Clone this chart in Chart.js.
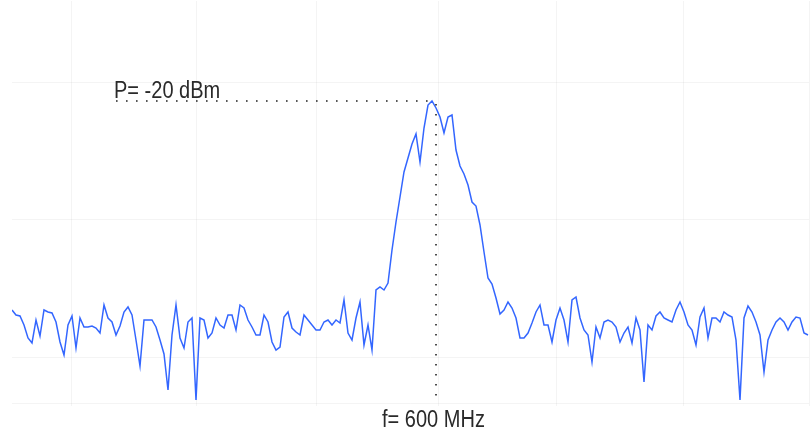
<!DOCTYPE html>
<html><head><meta charset="utf-8">
<script src="https://cdn.jsdelivr.net/npm/chart.js@4.4.1/dist/chart.umd.min.js"></script>
<style>html,body{margin:0;padding:0;background:#fff;overflow:hidden}canvas{display:block}</style>
</head><body>
<canvas id="c" width="810" height="430"></canvas>
<script>
// Frequency axis of the trace (MHz): first sample and spacing
const freqStartMHz = 494;
const freqStepMHz = 1;
const powerDbm = [
 -40.9,-41.4,-41.5,-42.4,-43.7,-44.2,-41.9,-43.5,-40.9,-41.1,
 -41.2,-42.1,-44.1,-45.4,-42.4,-41.5,-44.7,-41.7,-42.6,-42.6,
 -42.5,-42.7,-43.2,-40.4,-41.7,-42.1,-43.4,-42.5,-41.1,-40.6,
 -41.4,-43.9,-46.5,-41.9,-41.9,-41.9,-42.6,-43.9,-45.3,-48.9,
 -43.4,-40.4,-43.7,-44.7,-42.1,-41.7,-49.9,-41.7,-41.9,-43.7,
 -43.2,-41.7,-42.4,-42.7,-41.4,-41.4,-42.9,-40.4,-40.7,-41.9,
 -42.6,-43.4,-43.4,-41.4,-42.1,-44.1,-44.9,-44.6,-41.6,-41.1,
 -42.7,-43.1,-43.4,-41.4,-41.9,-42.4,-42.9,-42.9,-42.1,-41.9,
 -42.4,-41.9,-42.2,-39.9,-43.2,-43.9,-41.7,-40.1,-44.4,-42.4,
 -44.9,-38.9,-38.6,-38.9,-38.2,-34.9,-32.1,-29.6,-27.1,-25.7,
 -24.3,-23.3,-26.1,-22.7,-20.4,-20.0,-20.7,-21.6,-23.2,-21.6,
 -21.4,-24.9,-26.5,-27.3,-28.4,-30.1,-30.5,-32.4,-35.1,-37.7,
 -38.3,-39.7,-41.3,-40.9,-40.1,-40.7,-41.7,-43.7,-43.7,-43.2,
 -42.2,-41.1,-40.4,-42.4,-42.4,-44.1,-41.9,-40.7,-41.9,-44.1,
 -39.9,-39.6,-41.7,-42.9,-43.4,-46.1,-42.6,-43.7,-42.1,-41.9,
 -42.1,-42.6,-44.1,-43.2,-42.6,-44.2,-41.7,-42.9,-48.1,-42.4,
 -42.9,-41.5,-41.1,-41.7,-41.9,-42.1,-40.9,-40.1,-41.1,-42.4,
 -42.9,-44.4,-41.6,-40.7,-43.7,-41.7,-41.7,-42.1,-41.1,-41.4,
 -41.6,-43.9,-49.9,-41.7,-40.5,-41.1,-42.1,-43.4,-47.1,-43.9,
 -42.9,-42.1,-41.7,-42.1,-42.9,-42.1,-41.6,-41.7,-43.2,-43.4
];
// Marker
const markerFreqMHz = 600;
const markerPowerDbm = -20;
const markerLeaderStartMHz = 520;
const markerPowerLabel = 'P= -20 dBm';
const markerFreqLabel = 'f= 600 MHz';
// Faint grid positions
const gridFreqsMHz = [508.75, 540, 570, 600.5, 630, 661.75, 693.25];
const gridLevelsDbm = [-18.1, -31.8, -45.6, -50.2];
const xRangeMHz = [494, 693.25];
const yRangeDbm = [-50.5, -10];
const bottomLevelDbm = -50.2;

const points = powerDbm.map((v, i) => ({ x: freqStartMHz + i * freqStepMHz, y: v }));

const markerPlugin = {
  id: 'marker',
  afterDatasetsDraw(chart) {
    const { ctx, scales: { x, y } } = chart;
    const mx = x.getPixelForValue(markerFreqMHz);
    const my = y.getPixelForValue(markerPowerDbm);
    const lx = x.getPixelForValue(markerLeaderStartMHz);
    const by = y.getPixelForValue(bottomLevelDbm);
    ctx.save();
    ctx.strokeStyle = '#222';
    ctx.lineWidth = 1.6;
    ctx.setLineDash([1.6, 8.4]);
    ctx.beginPath();
    ctx.moveTo(lx, my);
    ctx.lineTo(mx, my);
    ctx.stroke();
    ctx.beginPath();
    ctx.moveTo(mx, my + 3);
    ctx.lineTo(mx, by);
    ctx.stroke();
    ctx.setLineDash([]);
    ctx.fillStyle = '#2a2a2a';
    ctx.font = '23px "Liberation Sans", Arial, sans-serif';
    ctx.textBaseline = 'alphabetic';
    // power label
    ctx.save();
    ctx.translate(lx - 2, my - 3);
    ctx.scale(0.87, 1);
    ctx.textAlign = 'left';
    ctx.fillText(markerPowerLabel, 0, 0);
    ctx.restore();
    // frequency label
    ctx.save();
    ctx.translate(mx - 2.5, by + 24);
    ctx.scale(0.87, 1);
    ctx.textAlign = 'center';
    ctx.fillText(markerFreqLabel, 0, 0);
    ctx.restore();
    ctx.restore();
  }
};

new Chart(document.getElementById('c'), {
  type: 'line',
  data: {
    datasets: [{
      data: points,
      borderColor: '#3366ff',
      borderWidth: 1.5,
      pointRadius: 0,
      tension: 0,
      fill: false
    }]
  },
  options: {
    responsive: false,
    animation: false,
    layout: { padding: { left: 12, right: 1, top: 1, bottom: 24 } },
    plugins: { legend: { display: false }, tooltip: { enabled: false } },
    scales: {
      x: {
        type: 'linear',
        min: xRangeMHz[0], max: xRangeMHz[1],
        afterBuildTicks: (s) => { s.ticks = gridFreqsMHz.map(v => ({ value: v })); },
        ticks: { display: false },
        grid: { color: 'rgba(0,0,0,0.045)', drawTicks: false },
        border: { display: false }
      },
      y: {
        min: yRangeDbm[0], max: yRangeDbm[1],
        afterBuildTicks: (s) => { s.ticks = gridLevelsDbm.map(v => ({ value: v })); },
        ticks: { display: false },
        grid: { color: 'rgba(0,0,0,0.045)', drawTicks: false },
        border: { display: false }
      }
    }
  },
  plugins: [markerPlugin]
});
</script>
</body></html>
